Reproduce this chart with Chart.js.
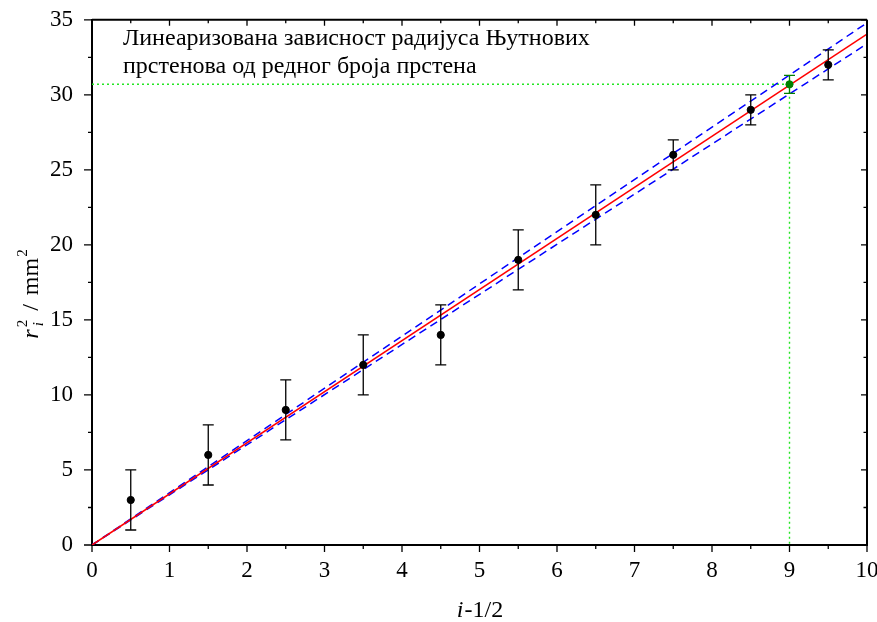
<!DOCTYPE html>
<html><head><meta charset="utf-8">
<script src="https://cdn.jsdelivr.net/npm/chart.js@4/dist/chart.umd.min.js"></script>
<style>html,body{margin:0;padding:0;background:#fff}</style>
</head><body>
<canvas id="c" width="877" height="622"></canvas>
<script>
// ---- data ----
const xVals = [0.5, 1.5, 2.5, 3.5, 4.5, 5.5, 6.5, 7.5, 8.5, 9.5];
const yVals = [3, 6, 9, 12, 14, 19, 22, 26, 29, 32];
const yErr  = [2, 2, 2, 2, 2, 2, 2, 1, 1, 1];
const fitX   = [0, 10];
const fitY   = [0, 34.05];
const upperY = [0, 34.8];
const lowerY = [0, 33.4];
const greenX = [9];
const greenY = [30.7];
const greenErr = [0.6];
const guideX = [0, 9, 9];
const guideY = [30.7, 30.7, 0];
const titleLines = ['Линеаризована зависност радијуса Њутнових', 'прстенова од редног броја прстена'];
const xTicks = [0,1,2,3,4,5,6,7,8,9,10];
const yTicks = [0,5,10,15,20,25,30,35];

const FONT = "'Liberation Serif', 'Times New Roman', serif";
const pts = (xs, ys) => xs.map((x, i) => ({x, y: ys[i]}));

const errPlugin = {
  id: 'errbars',
  afterDatasetsDraw(chart) {
    const {ctx, scales: {x, y}} = chart;
    const draw = (xs, ys, es, color) => {
      ctx.save();
      ctx.strokeStyle = color; ctx.lineWidth = 1.3;
      xs.forEach((xv, i) => {
        const px = x.getPixelForValue(xv);
        const p1 = y.getPixelForValue(ys[i] - es[i]);
        const p2 = y.getPixelForValue(ys[i] + es[i]);
        ctx.beginPath();
        ctx.moveTo(px, p1); ctx.lineTo(px, p2);
        ctx.moveTo(px - 5.5, p1); ctx.lineTo(px + 5.5, p1);
        ctx.moveTo(px - 5.5, p2); ctx.lineTo(px + 5.5, p2);
        ctx.stroke();
      });
      ctx.restore();
    };
    draw(xVals, yVals, yErr, '#000');
    draw(greenX, greenY, greenErr, '#008000');
  }
};

const framePlugin = {
  id: 'frame',
  afterDraw(chart) {
    const {ctx, chartArea: a, scales: {x, y}} = chart;
    ctx.save();
    ctx.strokeStyle = '#000';
    ctx.lineWidth = 2;
    ctx.beginPath();
    ctx.moveTo(a.left, a.top); ctx.lineTo(a.right, a.top);
    ctx.moveTo(a.right, a.top); ctx.lineTo(a.right, a.bottom);
    ctx.stroke();
    ctx.lineWidth = 1.3;
    ctx.beginPath();
    xTicks.forEach(v => {
      const p = x.getPixelForValue(v);
      ctx.moveTo(p, a.top); ctx.lineTo(p, a.top + 6);
      ctx.moveTo(p, a.bottom); ctx.lineTo(p, a.bottom + 7);
    });
    yTicks.forEach(v => {
      const p = y.getPixelForValue(v);
      ctx.moveTo(a.right, p); ctx.lineTo(a.right - 6, p);
      ctx.moveTo(a.left, p); ctx.lineTo(a.left - 8, p);
    });
    for (let i = 0; i < xTicks.length - 1; i++) {
      const p = x.getPixelForValue((xTicks[i] + xTicks[i+1]) / 2);
      ctx.moveTo(p, a.bottom); ctx.lineTo(p, a.bottom + 4);
      ctx.moveTo(p, a.top); ctx.lineTo(p, a.top + 3.5);
    }
    for (let i = 0; i < yTicks.length - 1; i++) {
      const p = y.getPixelForValue((yTicks[i] + yTicks[i+1]) / 2);
      ctx.moveTo(a.left, p); ctx.lineTo(a.left - 4, p);
      ctx.moveTo(a.right, p); ctx.lineTo(a.right - 3.5, p);
    }
    ctx.stroke();

    // title inside plot
    ctx.fillStyle = '#000';
    ctx.textBaseline = 'alphabetic';
    ctx.textAlign = 'left';
    ctx.font = `24px ${FONT}`;
    ctx.fillText(titleLines[0], 123, 45);
    ctx.fillText(titleLines[1], 123, 73);

    // x axis title: i-1/2
    const big = 24;
    ctx.font = `italic ${big}px ${FONT}`;
    const wi = ctx.measureText('i').width;
    ctx.font = `${big}px ${FONT}`;
    const wr = ctx.measureText('-1/2').width;
    const cx = (a.left + a.right) / 2;
    let sx = cx - (wi + wr) / 2;
    ctx.font = `italic ${big}px ${FONT}`;
    ctx.fillText('i', sx, 617);
    ctx.font = `${big}px ${FONT}`;
    ctx.fillText('-1/2', sx + wi + 1, 617);

    // y axis title: r_i^2 / mm^2 (rotated)
    ctx.save();
    ctx.translate(38, 294);
    ctx.rotate(-Math.PI / 2);
    const small = 15;
    ctx.font = `italic ${big}px ${FONT}`;
    const wR = ctx.measureText('r').width;
    ctx.font = `italic ${small}px ${FONT}`;
    const wSub = ctx.measureText('i').width;
    ctx.font = `${small}px ${FONT}`;
    const wSup = ctx.measureText('2').width;
    const wScript = Math.max(wSub, wSup);
    ctx.font = `${big}px ${FONT}`;
    const wSlash = ctx.measureText('/').width;
    const wMM = ctx.measureText('mm').width;
    const gap = 9;
    const total = wR + 2 + wScript + gap + wSlash + gap + wMM + 1 + wSup;
    let px = -total / 2;
    ctx.font = `italic ${big}px ${FONT}`;
    ctx.fillText('r', px, 0); px += wR + 2;
    ctx.font = `${small}px ${FONT}`;
    ctx.fillText('2', px, -11);
    ctx.font = `italic ${small}px ${FONT}`;
    ctx.fillText('i', px + 1, 5);
    px += wScript + gap;
    ctx.font = `${big}px ${FONT}`;
    ctx.fillText('/', px, 0); px += wSlash + gap;
    ctx.fillText('mm', px, 0); px += wMM + 1;
    ctx.font = `${small}px ${FONT}`;
    ctx.fillText('2', px, -11);
    ctx.restore();
    ctx.restore();
  }
};

new Chart(document.getElementById('c'), {
  type: 'scatter',
  data: {
    datasets: [
      { label: 'data', data: pts(xVals, yVals), backgroundColor: '#000', borderColor: '#000',
        pointRadius: 3.6, pointHoverRadius: 3.6, showLine: false },
      { label: 'point', data: pts(greenX, greenY), backgroundColor: '#008000', borderColor: '#008000',
        pointRadius: 3.6, pointStyle: 'circle', showLine: false },
      { label: 'fit', data: pts(fitX, fitY), showLine: true, borderColor: '#ff0000', borderWidth: 1.6,
        pointRadius: 0, fill: false },
      { label: 'upper', data: pts(fitX, upperY), showLine: true, borderColor: '#0000ff', borderWidth: 1.5,
        borderDash: [8, 5], pointRadius: 0, fill: false },
      { label: 'lower', data: pts(fitX, lowerY), showLine: true, borderColor: '#0000ff', borderWidth: 1.5,
        borderDash: [8, 5], pointRadius: 0, fill: false },
      { label: 'guide', data: pts(guideX, guideY), showLine: true, borderColor: '#22e622', borderWidth: 1.4,
        borderDash: [2, 3], pointRadius: 0, fill: false }
    ]
  },
  options: {
    responsive: false,
    animation: false,
    layout: { padding: { top: 17, right: 0, left: 0, bottom: 0 } },
    plugins: { legend: { display: false }, tooltip: { enabled: false }, title: { display: false } },
    scales: {
      x: {
        type: 'linear', min: 0, max: 10,
        afterFit: s => { s.height = 77; },
        ticks: { stepSize: 1, color: '#000', font: { family: FONT, size: 23 }, padding: -1.5, maxRotation: 0 },
        grid: { display: false, drawOnChartArea: false, drawTicks: true, tickLength: 13.5 },
        border: { display: true, color: '#000', width: 2 }
      },
      y: {
        type: 'linear', min: 0, max: 35,
        afterFit: s => { s.width = 92; },
        ticks: { stepSize: 5, color: '#000', font: { family: FONT, size: 23 }, padding: 6 },
        grid: { display: false, drawOnChartArea: false, drawTicks: true, tickLength: 13 },
        border: { display: true, color: '#000', width: 2 }
      }
    }
  },
  plugins: [errPlugin, framePlugin]
});
</script>
</body></html>
